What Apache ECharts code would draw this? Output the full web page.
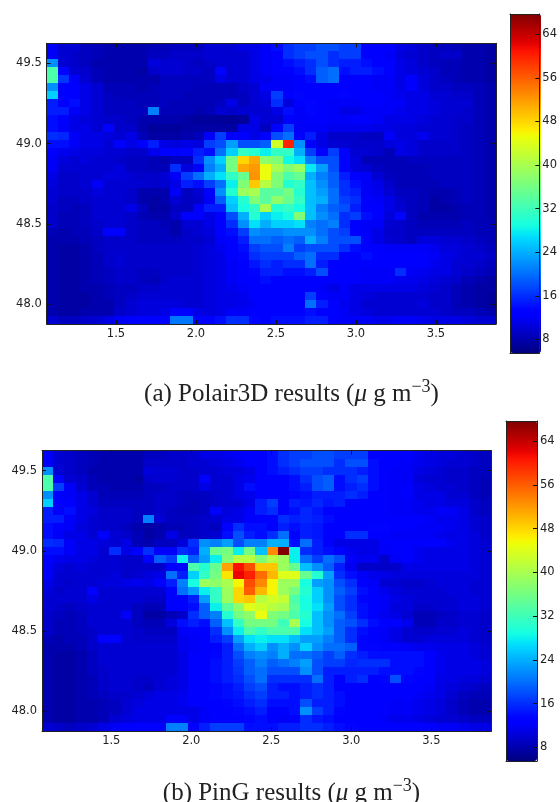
<!DOCTYPE html>
<html><head><meta charset="utf-8">
<style>html,body{margin:0;padding:0;background:#fff}#c{width:560px;height:802px}</style>
<script src="https://cdn.jsdelivr.net/npm/echarts@6/dist/echarts.min.js"></script>
</head><body><div id="c"></div>
<script>
const lonTicks=[1.5,2.0,2.5,3.0,3.5];
const latTicks=[48.0,48.5,49.0,49.5];
const colorTicks=[8,16,24,32,40,48,56,64];
const lonStart=1.067, lonStep=0.0702, latTop=49.625, latStep=0.05;
const colorMin=5.5, colorMax=67.7;
const captionA='(a) Polair3D results (';
const captionB='(b) PinG results (';
const polair=[
[12,10,10,9,8.5,8,8,8,8,8.5,8.5,9,9,9,10,10,10,11,11,12,14,16,17,17,18,18,17,17,13,13,12.5,11,10.5,9.5,9,9,8.5,8,8,7.5],
[12,10,9.5,9,8.5,8,8,8,8,9,9,9.5,9.5,9.5,10,10,10,10,11,12,13,16,17,18,18,16,17,17,13,13,12,10.5,10,9.5,9,9.5,9.5,8,8,7.5],
[22,10,9.5,9,8,8,8,8,8,10.5,10,10,9.5,9,9.5,10,10,10,11,12,13,14,15,16,18,16,15,15,14,13,12.5,11,10.5,9.5,9,8.5,8.5,8,8,7.5],
[33,13.5,10,9.5,8.5,8,8,8,7.5,9.5,10,10,9.5,9.5,9,13,10,10,11,12,13,13,14,16,19,20,14,15,15,14,12.5,11,10.5,10,9.5,8.5,8.5,8,8,7.5],
[33,16.5,12,10,8.5,8,8,8,8,8,9,9,9,9,9,11,10,10,11,11.5,12,12,13,14,19,20,13,13,13,12,12,11,13,10.5,9.5,9,8.5,8,8,7.5],
[22,13,12.5,11,10,8.5,8.5,8.5,8,8.5,9,9,9,8.5,8.5,8.5,8.5,9.5,10,12,12,12,12.5,13,13,13,12.5,12.5,12.5,12,12,11,13,10.5,9.5,9.5,9,9,8.5,8],
[26,13,13,11,10,9,8.5,8.5,8.5,8.5,9,9,8.5,8.5,8.5,8.5,8.5,9,10,11,17,12.5,13.5,13,12.5,12.5,13.5,13,12.5,12.5,12,11.5,11,11,10,10,9.5,9.5,8.5,8],
[15,13,14,11,10,9,9,9,8.5,8.5,9,8.5,8.5,8.5,8.5,9,11,9,10,10.5,16,10.5,12.5,13.5,12.5,12,12,12,12.5,12.5,12,12,11,11,10.5,10,10,10,8.5,8],
[15,15,12,11,10,9,9,9,9,21,8.5,8.5,8.5,8,8.5,10,9.5,10,10,10,11,14,12,13.5,12.5,12,11,11,12,12,12,11.5,11,11,10.5,10,10,9.5,8.5,8],
[14,12.5,11,10.5,10,9.5,9.5,9,8,8,8,8,7.5,7,7,6.8,6.8,7,11,10,10,13,12,12.5,12.5,12,12,12.5,12.5,12,11,11,11,10.5,10,10,9.5,9.5,8.5,8],
[14,12,11,11,10,12.5,9.5,9.5,8,7,7,7,7.5,7.5,7.5,7.5,7.5,11,11,9,13,17,12,12,12,11.5,11.5,11.5,11.5,11,11,10.5,10.5,10,10,10,9.5,9,8.5,8],
[16,15.5,12,11,11,10.5,10,11,8.5,7.5,7.5,7.5,8,8.5,12,17,13,13,11,12.5,18,20,13,15,11,9.5,9.5,9.5,9,9,12,10.5,10.5,11.5,10,10,9.5,9,8.5,8],
[14,14,12,11,11,10,13,11,13,15,11,10.5,11,10.5,17,18,23,18,18,19,43,60,22,13,11,10,10,9.5,9.5,9.5,10.5,11,10.5,9.5,9.5,9.5,9.5,9,8.5,8],
[13,11.5,11,10.5,10.5,10,10,9.5,9.5,11.5,13,13,13.5,15,14,20,26,31,30,28,31,31,24,17,13,17,13,10,10,9.5,8.5,11,10.5,9.5,9.5,9.5,9.5,9,8.5,8],
[12,10.5,10,10.5,10,10,9.5,9,9,8.5,8,9,9,16,22,26,36,48,51,38,37,28.5,27,21,18,18,13,10.5,8.5,8.5,8.5,8.5,9,9,9,9,9,9,8.5,8],
[12,10,10,10,10,10,10.5,9,9,8.5,8.5,16,10.5,13,21,24,36,51,52,45,40,37,39,27.5,23,18,13,10.5,10,9,8.5,8.5,8.5,8.5,9,9,9,9,8.5,8],
[11,9.5,9.5,10,10,10.5,10.5,10,9.5,9.5,10,12,17,20,24,27,31,35,52.5,45,37,33,35,24,21,19,15,13,12,10,9,8.5,8.5,8.5,9,9,9,9,8.5,8],
[10.5,9.5,9.5,10,12,10,10,10,10,9.5,10,11,15,14,17,20,28,37,49,41,37,30,31,25,22,19,16,14,12,11,9.5,8.5,8.5,8.5,8.5,9,9,9,8.5,8],
[10,9.5,9.5,9.5,10.5,10,10,9.5,8,8,8,12,9,10,13,22,30,39,40,34,34,36,30,25,23,20,16,15,12,11.5,10,9,9,8.5,8,8,8.5,9,8.5,8],
[10,9,9,9.5,10,10,10,9.5,8,7.5,8,10,9,9.5,12,19,26,30,37,34,38,35,31,25,24,20,17,16,12.5,12,11,9.5,9,8.5,7.5,8,8.5,9,8.5,8],
[9.5,9,8.5,9,10,10,10,11,9,7.5,7.5,9,9,12,15,15,25,29,31,40,30,31,29,25,21,19,18,15,13,12.5,11,10,9,8.5,7.5,7.5,8,8.5,8.5,8],
[9.5,8.5,8.5,9,10,10,10,9.5,8.5,8,8,9.5,13,13,11,13,18,24,30,26,28,29,37,25,22,20,16,17,14,13,10.5,13.5,9,8,8,8,8,8.5,8.5,8],
[9.5,8.5,8.5,9,9.5,10,10,9.5,9,9,8.5,8,10,10,11,13,16,22,27,24,26,26,27,21,20,21,16,13,12,12,10,9.5,9,8.5,8.5,8.5,8.5,9,8.5,8.5],
[8.5,8,8.5,8.5,9.5,12.5,13,9.5,9,9,9,8,9.5,10,10.5,12.5,14,17,22,21,21,22,22,22,20,18,17,13,12,11,9.5,9.5,9,9,9,9,9,9,8.5,8.5],
[8,8,8,8.5,9,9.5,9.5,9.5,9,9,9,9,9.5,9.5,10,12,13,15,20,20,19,20,19,24,21,18,18,18,12.5,11,10,9.5,9,10.5,10.5,10,10,9.5,9,8.5],
[8,7.5,7.5,8,9,9.5,9.5,9.5,9.5,9.5,9.5,9.5,9.5,10,10.5,11.5,13,14,17,18,18,21,17,18,18,18,16,14,13,12.5,12,12,12,12,11.5,10.5,10.5,10,9.5,9],
[8,7.5,7.5,8,8.5,9.5,10,9.5,9.5,9.5,9.5,9.5,9.5,10,10.5,11,12.5,13.5,16,17,17,17,19,20,16,16,13,13,14,13,13,13,13,13,12,11,10.5,10,10,9.5],
[8,7.5,7.5,8,8.5,9.5,10,9.5,9.5,9.5,9.5,9.5,9.5,10,10.5,11,12,13,14.5,16,15,16,16,20,15,13,13,12.5,12.5,13,13,13,12.5,12.5,11.5,11,10,10,9.5,9],
[8,7.5,7.5,8,8.5,9,9.5,9.5,9,9,9.5,9.5,9.5,10,10.5,11,12,13,13.5,15,15,14,14,15,18,13,12.5,12.5,12,12,12,16,12,11.5,11,11,10,9.5,9,8.5],
[8,7.5,7.5,8,8.5,9,9.5,9.5,9,8.5,9.5,10,10,10,10.5,11,12,12.5,13,14,13,13,13,13,13,13,12.5,12.5,12,12,12,11.5,11.5,11,10.5,10,9.5,8.5,8,7.5],
[8,7.5,7.5,8,8,8.5,9,9,9.5,9.5,10,10,10,10,10.5,11,11.5,12,12.5,13,13,13,13,13,12,11,12,11,11,11,11,11,11,10.5,10,9.5,8.5,8,7.5,7.5],
[8,7.5,7.5,7.5,8,8.5,9,9.5,10,10,10,10,10,10,10.5,11,11,11.5,12.5,13,13,13,13,17,13,12,12,11,10.5,10,10,10,10,10,9.5,9.5,8.5,8,7.5,7],
[8,7.5,7.5,7.5,8,8,9,10,10.5,10.5,10.5,10.5,10,10,10.5,11,11,11.5,12,13,13,13,13,20,15,13,11.5,11,10,10,10,10,10,10.5,9.5,9.5,8.5,8,7.5,7],
[8,7.5,7.5,8,8,8,9.5,10,10.5,10.5,11,13,13,11,10.5,11,12,12,12.5,13,13,13,13,14,13,13,12,11,10.5,10,10,10,10,10,10,9.5,9,9,8.5,8],
[10,9,9,9.5,10,11,12,13,13,13,13,20.5,20.5,13,12.5,14,16,16,13.5,13,14,14,14,15,15,13,12,12,12,11.5,11.5,12,12,11.5,11,11,11,10.5,10,10]
];
const ping=[
[12,10,9.5,9,8.5,8,8,8,8,9,9,9.5,9.5,10,11,11,11.5,12,12.5,13,14,16,17,17,18,18,17,17,17,13,13,12.5,12.5,11.5,11,10.5,10.5,10,9.5,9],
[12,10,9.5,9,8.5,8,8,8,8,9.5,9.5,9.5,9.5,10,10,10.5,11,11.5,12.5,13,14,16,17,18,18,18,16,18,18,14,13,12.5,12,11.5,11,10.5,10,10,9.5,9],
[22,10,9.5,9,8,8,8,8,8,10.5,10,10,9.5,9.5,10,10,10.5,10.5,11,12.5,14,15,16,17,17,16,16,16,15,14,13,12,12,11,10.5,10,9.5,9.5,9,9],
[33,13,10,9.5,8.5,8,8,8,7.5,9.5,10,10,9.5,9.5,13,10,10,11,11.5,12.5,13,13,14,16,18,19,14,16,17,14,13,12,12,10.5,10,10,9.5,9.5,9,8.5],
[33,17,12,10,8.5,8.5,8,8,8,9,9,9.5,9.5,9.5,11,10,10,11,14,13,13,13,14,15,18,19,14,15,16,14,13,12,12.5,11,10.5,10,10,9.5,9,8.5],
[22,13,12,11,10,8.5,8.5,8.5,8.5,9,9.5,9.5,9,9,9,9.5,10,11,11.5,13,13,13,13.5,14,15,15,15,16,15,13,13,12,13,11,11,11,10,10,9,8.5],
[26,13,13,11,10,9,9,9,9,9,9.5,9.5,9,8.5,9,9.5,10,10,11,15,17,13,15,14.5,15.5,14.5,15,13,13,13,12.5,12,12,11.5,11,11,10.5,10.5,9.5,9],
[15,13,14,11,10.5,9.5,9.5,9.5,9,9,9.5,9,8.5,8.5,9,12.5,10.5,11,12,15,16,12.5,14,15.5,14.5,12.5,13,13,13,13,12.5,12,12,11.5,11.5,12,12,11,9.5,9],
[15,15,12,11,10,9.5,9.5,9.5,9,21,10,9,9,9,9.5,10,11,11,12.5,13,13,16,15,15.5,15,14,13,13,13,13,12.5,12.5,12.5,13,12,11.5,11.5,11,10,9.5],
[14,12.5,12,10.5,10,9.5,9.5,9,8,7.5,8,8.5,8.5,9,9.5,9,13,16,14,14,13,15,14,15,14.5,13,13,13,13,13.5,13.5,12.5,12.5,12,12,12,11.5,11,10,9.5],
[14,12,11,11,10,12.5,10,9.5,8.5,7.5,8,11,9,9,9.5,10,14,18,15,14,16,20,13,15,14.5,13,13,16,16,13,13,12,12,12,12,11.5,11,11,10.5,9.5],
[16,15.5,12,11,11,10.5,10,11,8.5,8,9,9,10.5,16,22,21,23,18,21,21,24,24,14,20,15,13,11,11,11,11,13,13,13,13,12.5,12.5,11.5,11,10.5,10],
[14,14,12,11,11,10,16,11,13,16,13,13,16,15,24,35,36,28,36,25,53,67.5,28,16,15,14,13,11.5,11,11,12,13,12.5,11.5,11,11,11,11,10.5,10],
[13,11.5,11,11,10.5,10,10,9.5,9.5,13,19,17,28,19,23,28,37,41,41,37,41,39,28,20,17,20,18,12,11.5,11.5,9.5,12,12.5,11.5,11,11,11,11,10.5,10],
[12,10.5,10,10.5,10,10,10,9.5,9.5,9.5,9.5,13,13.5,33,30,35,51.5,61,57,49,49,39,35,25,22,19,15,11.5,9.5,9.5,9.5,9.5,11,11,11,11,11,11,10.5,10],
[12,10,10,10,10,10,10.5,9.5,10,10.5,11,20,15,26,31,36,47,62,60,55,50,44,44,35,30,23,16,14,12,11.5,11,10.5,10.5,10.5,10.5,10.5,10.5,10.5,10.5,10],
[11,10,9.5,10,10,10.5,10.5,11,11.5,11,13,15,21,29,39,38,40,46,57,53,46,39,39,29,23,22,18,16,13,12,10,10,9.5,9.5,10,10.5,10.5,10.5,10,10],
[10.5,9.5,10,10,13,10,10,10,10,10,10,13,20,23,28,31,39,48,56,50,46,39,36,30,26,22,19,17,14,13,11.5,10.5,10,10,10,10,10.5,10.5,10,10],
[10,10,10,10,11,10,10,10,10,9.5,9.5,12.5,12.5,15,23,31,39,48,49,41,43,42,33,29,26,22,18,16,13.5,13,12,11,10.5,10,10,10,10,10.5,10.5,10],
[10,9.5,9,9.5,10,10,10,10,9,8.5,8.5,12.5,12.5,14,19,28,34,38,44,43,41,40,34,29,27,23,18,16,14,13,12,10.5,10.5,9.5,9.5,10,10,10.5,10.5,10],
[9.5,9,8.5,9,10,10,10,12,9,7.5,7.5,8.5,9.5,16,19,21,30,36,38,45,37,36,33,30,25,22,20,17,14,12.5,11.5,11,10,8.5,8.5,9,9.5,10,10,9.5],
[9.5,8.5,8.5,9,10,10,10,10,9,8.5,8.5,10.5,14,15,14,19,25,31,36,36,36,32,40,29,25,22,19,18,16,14,12.5,13,11.5,8.5,8.5,9.5,9.5,10,10,9.5],
[9.5,8.5,8.5,9,9.5,10,10,10,9.5,9,9,9,12,13,13,16,22,28,33,31,33,33,33,27,25,23,19,16,14,13,12,11,10,9.5,9.5,10,10,10.5,10,9.5],
[8.5,8,8.5,8.5,9.5,13,13,10,9.5,9.5,9.5,9.5,11.5,12,12.5,15,17,23,27,28,27,27,25,23,23,21,19,16,13.5,13,12,11,10,10,10.5,10.5,10.5,10.5,10,9.5],
[8,8,8,8.5,9.5,10,10,10,10,10,10,10,11.5,12,12.5,13,15,20,24,26,22,24,22,26,22,20,20,19,13.5,13.5,13,12.5,12,11.5,11.5,11,11,11,10.5,10],
[8,7.5,7.5,8,9,10,10,10,10,10,10,10,11,12.5,13,13.5,15,18,21,22,21,24,20,20,19,17,19,16,15,14,14,14,14,14,13,11.5,11,11,10.5,10],
[8,7.5,7.5,8,9,10,10,10,10,10,10,10,11,12.5,13,14,15,17,19,21,19,20,21,23,18,17,17,15.5,16,16,16,14,14,14,13,11.5,11,11,11,10.5],
[8,7.5,7.5,8,9,9.5,10,10,10,10,10,10,11,12.5,13,14,15,16.5,19,20,18,18,18,22,18,15,15,15,15,15,14,14,14,13.5,13,11.5,11,11,11,10.5],
[8,7.5,7.5,8,8.5,9.5,10,10,9.5,9.5,10,10.5,11,12.5,13,14,15,16,18,20,16,16,16,16,20,15,13,15,16,13,13.5,18,13.5,13,12.5,11,11,10.5,10.5,10],
[8,7.5,7.5,8,8.5,9.5,10,10,9.5,9,10,10.5,11,12.5,13,13.5,14,15,17,18,15,14,14,15,16,15,13,13,13,13,13,13,13,12.5,12,11,10.5,10,9.5,9],
[8,7.5,7.5,8,8.5,9,9.5,9.5,10,10.5,11,11,11.5,12.5,13,13.5,14,14.5,16,17,15,15,14,15,16,15,14,13,13,13,13,13,12.5,12,11.5,11,10,9,8.5,8.5],
[8,7.5,7.5,8,8,8.5,9,10,10.5,11,11,11,11.5,12.5,13,13,13.5,14,15,16,14,14,14,18,15,15,14,13,13,13,12.5,12,12,11.5,11,10.5,9.5,8.5,8,8],
[8,7.5,7.5,8,8,8.5,9,10,11,11,11,11,11,11,12,13,13,13.5,14,15,13,13,14,22,17,15,13.5,13,13,13,12.5,12,12,11.5,11,10.5,9.5,8.5,8,8],
[8,7.5,7.5,8,8,8.5,10,10.5,11,11,11,13,13,11,12,13,13,13,13.5,14,13,12,13,16,14.5,14,13,13,12.5,12.5,12,11.5,11.5,11,10.5,10,10,9.5,9,9],
[10,9.5,9,9.5,10,11,12,13,13,13,13,21,21,13,15,17,17,17,14,14,14,15,15,16,16,15,14,13.5,13,13,13,13,13,12.5,12.5,12,12,11.5,11,11]
];

function toCells(m){const out=[];m.forEach((row,r)=>row.forEach((v,c)=>{
  out.push([lonStart+c*lonStep, latTop-r*latStep, v]);}));return out;}

// matplotlib "jet" break points
function ch(p,t){for(let i=1;i<p.length;i++){if(t<=p[i][0]){const a=p[i-1],b=p[i];return a[1]+(b[1]-a[1])*(t-a[0])/(b[0]-a[0]);}}return p[p.length-1][1];}
const R=[[0,0],[.35,0],[.66,1],[.89,1],[1,.5]],G=[[0,0],[.125,0],[.375,1],[.64,1],[.91,0],[1,0]],B=[[0,.5],[.11,1],[.34,1],[.65,0],[1,0]];
const jet=[];for(let i=0;i<=64;i++){const t=i/64;jet.push('rgb('+[R,G,B].map(p=>Math.round(255*ch(p,t))).join(',')+')');}

const ink='#222';
function axisBits(){return {axisLine:{show:true,onZero:false,lineStyle:{color:ink,width:1}},splitLine:{show:false}};}
function mainAxes(g){
  const lonMax=lonStart+40*lonStep, latMin=latTop-35*latStep;
  const x=(pos,lab)=>Object.assign({type:'value',gridIndex:g,position:pos,min:lonStart,max:lonMax,z:10,
    axisTick:{show:true,inside:true,length:4,lineStyle:{color:'#111'},customValues:lonTicks},
    axisLabel:{show:lab,customValues:lonTicks,formatter:v=>v.toFixed(1),color:ink,fontFamily:'DejaVu Sans',fontSize:11.5,margin:4}},axisBits());
  const y=(pos,lab)=>Object.assign({type:'value',gridIndex:g,position:pos,min:latMin,max:latTop,z:10,
    axisTick:{show:true,inside:true,length:4,lineStyle:{color:'#111'},customValues:latTicks},
    axisLabel:{show:lab,customValues:latTicks,formatter:v=>v.toFixed(1),color:ink,fontFamily:'DejaVu Sans',fontSize:11.5,margin:5}},axisBits());
  return {x:[x('bottom',true),x('top',false)],y:[y('left',true),y('right',false)]};
}
function barAxes(g){
  const x={type:'value',gridIndex:g,position:'bottom',min:0,max:1,z:10,axisTick:{show:false},axisLabel:{show:false},axisLine:{show:true,onZero:false,lineStyle:{color:ink}},splitLine:{show:false}};
  const xt=Object.assign({},x,{position:'top'});
  const yl={type:'value',gridIndex:g,position:'left',min:colorMin,max:colorMax,z:10,axisTick:{show:false},axisLabel:{show:false},axisLine:{show:true,onZero:false,lineStyle:{color:ink}},splitLine:{show:false}};
  const yr={type:'value',gridIndex:g,position:'right',min:colorMin,max:colorMax,z:10,
    axisTick:{show:true,inside:true,length:4,lineStyle:{color:'#111'},customValues:colorTicks},
    axisLabel:{show:true,customValues:colorTicks,color:ink,fontFamily:'DejaVu Sans',fontSize:11.5,margin:3},
    axisLine:{show:true,onZero:false,lineStyle:{color:ink}},splitLine:{show:false}};
  return {x:[x,xt],y:[yl,yr]};
}
const A=mainAxes(0),Bx=mainAxes(1),CA=barAxes(2),CB=barAxes(3);
const xAxis=[],yAxis=[];
[A,Bx,CA,CB].forEach(a=>{xAxis.push(...a.x);yAxis.push(...a.y);});

function cellSeries(m,axisStart){return {type:'custom',xAxisIndex:axisStart,yAxisIndex:axisStart,clip:true,silent:true,
  data:toCells(m),encode:{x:0,y:1},
  renderItem(params,api){
    const p0=api.coord([api.value(0),api.value(1)]);
    const p1=api.coord([api.value(0)+lonStep,api.value(1)-latStep]);
    const x0=Math.round(p0[0]),y0=Math.round(p0[1]),x1=Math.round(p1[0]),y1=Math.round(p1[1]);
    return {type:'rect',shape:{x:x0,y:y0,width:x1-x0,height:y1-y0},style:{fill:api.visual('color')}};
  }};}
function vm(series,left,top,h){return {type:'continuous',seriesIndex:series,dimension:2,min:colorMin,max:colorMax,left,top,itemWidth:31,itemHeight:h,padding:0,
  calculable:false,hoverLink:false,showLabel:false,inRange:{color:jet},z:4};}
function caption(head,y){const base={fontFamily:'Liberation Serif',fontWeight:'normal',fontSize:25,color:'#222',lineHeight:28,verticalAlign:'bottom'};
  return {left:291.5,top:y,textAlign:'center',padding:0,text:'{t|'+head+'}{mu|μ}{t| g m}{sup|−3}{t|)}',
  textStyle:{fontWeight:'normal',rich:{
    t:base,
    mu:Object.assign({},base,{fontStyle:'italic'}),
    sup:{fontFamily:'Liberation Serif',fontWeight:'normal',fontSize:18,color:'#222',padding:[0,0,11,0],verticalAlign:'bottom'}
  }}};}
const chart=echarts.init(document.getElementById('c'),null,{renderer:'canvas',width:560,height:802});
chart.setOption({animation:false,backgroundColor:'#fff',
  title:[caption(captionA,378),caption(captionB,777)],
  grid:[
    {left:46.7,top:43.3,width:449.3,height:280.7},
    {left:42,top:450.7,width:449.3,height:280.3},
    {left:510,top:14,width:31,height:339},
    {left:506,top:421,width:31,height:340}
  ],
  xAxis,yAxis,
  visualMap:[vm(0,510,14,339),vm(1,506,421,340)],
  series:[cellSeries(polair,0),cellSeries(ping,2)]
});
</script></body></html>
